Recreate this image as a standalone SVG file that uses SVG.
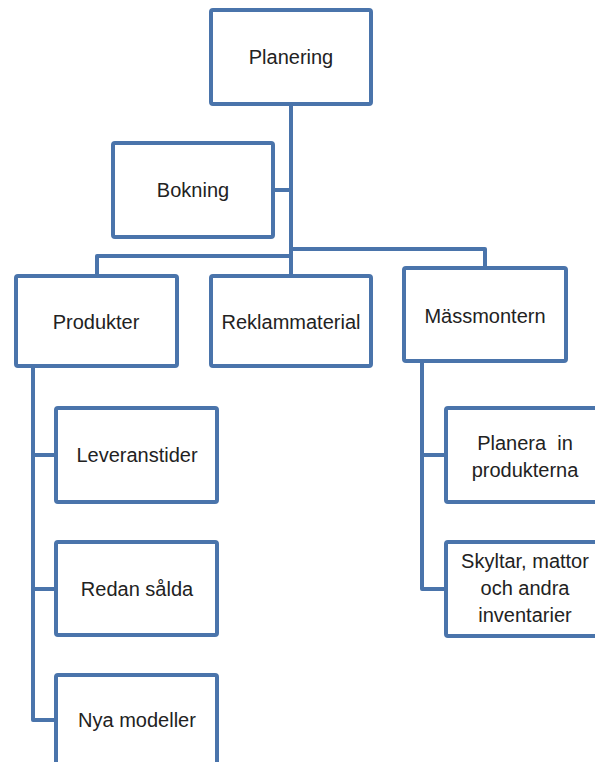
<svg xmlns="http://www.w3.org/2000/svg" width="595" height="762" viewBox="0 0 595 762">
  <style>
    .box { fill: #ffffff; stroke: #4a74ab; stroke-width: 4; }
    .wire { fill: none; stroke: #4a74ab; stroke-width: 4; stroke-linejoin: round; }
    .lbl { font-family: "Liberation Sans", Arial, sans-serif; font-size: 20px; fill: #222222; text-anchor: middle; }
  </style>
  <rect width="595" height="762" fill="#ffffff"/>

  <!-- tree connectors -->
  <g id="connectors" class="wire">
    <path d="M291 104 V276"/>
    <path d="M273 190 H291"/>
    <path d="M291 256 H97 V276"/>
    <path d="M291 249 H485 V268"/>
    <path d="M33 366 V720 H56"/>
    <path d="M33 455 H56"/>
    <path d="M33 589 H56"/>
    <path d="M422 361 V589 H446"/>
    <path d="M422 455 H446"/>
  </g>

  <g id="planering">
    <rect class="box" x="211" y="10" width="160" height="94" rx="2"/>
    <text class="lbl" x="291" y="64">Planering</text>
  </g>
  <g id="bokning">
    <rect class="box" x="113" y="143" width="160" height="94" rx="2"/>
    <text class="lbl" x="193" y="197">Bokning</text>
  </g>
  <g id="produkter">
    <rect class="box" x="16" y="276" width="161" height="90" rx="2"/>
    <text class="lbl" x="96" y="329">Produkter</text>
  </g>
  <g id="reklammaterial">
    <rect class="box" x="211" y="276" width="160" height="90" rx="2"/>
    <text class="lbl" x="291" y="329">Reklammaterial</text>
  </g>
  <g id="massmontern">
    <rect class="box" x="404" y="268" width="162" height="93" rx="2"/>
    <text class="lbl" x="485" y="323">Mässmontern</text>
  </g>
  <g id="leveranstider">
    <rect class="box" x="56" y="408" width="161" height="94" rx="2"/>
    <text class="lbl" x="137" y="462">Leveranstider</text>
  </g>
  <g id="redan-salda">
    <rect class="box" x="56" y="542" width="161" height="93" rx="2"/>
    <text class="lbl" x="137" y="596">Redan sålda</text>
  </g>
  <g id="nya-modeller">
    <rect class="box" x="56" y="675" width="161" height="110" rx="2"/>
    <text class="lbl" x="137" y="727">Nya modeller</text>
  </g>
  <g id="planera-in">
    <rect class="box" x="446" y="408" width="160" height="94" rx="2"/>
    <text class="lbl" x="525" y="450" xml:space="preserve">Planera  in</text>
    <text class="lbl" x="525" y="477">produkterna</text>
  </g>
  <g id="skyltar">
    <rect class="box" x="446" y="542" width="160" height="94" rx="2"/>
    <text class="lbl" x="525" y="568">Skyltar, mattor</text>
    <text class="lbl" x="525" y="595">och andra</text>
    <text class="lbl" x="525" y="622">inventarier</text>
  </g>
</svg>
